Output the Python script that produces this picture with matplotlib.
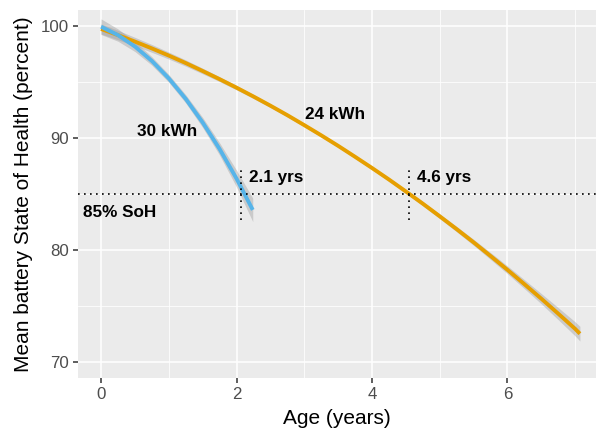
import matplotlib
matplotlib.use("Agg")
from matplotlib import pyplot as plt

plt.rcParams['font.family'] = ['Liberation Sans', 'DejaVu Sans']

# 30 kWh fit (mean and confidence half-width)
age_30 = [0.0, 0.25, 0.5, 0.75, 1.0, 1.25, 1.5, 1.75, 2.0, 2.24]
soh_30 = [99.95, 99.20, 98.18, 96.89, 95.33, 93.50, 91.39, 89.02, 86.37, 83.57]
se_30 = [0.7, 0.55, 0.45, 0.38, 0.35, 0.37, 0.45, 0.55, 0.75, 1.05]

# 24 kWh fit
age_24 = [0.0, 0.25, 0.5, 0.75, 1.0, 1.25, 1.5, 1.75, 2.0, 2.25, 2.5, 2.75,
          3.0, 3.25, 3.5, 3.75, 4.0, 4.25, 4.5, 4.75, 5.0, 5.25, 5.5, 5.75,
          6.0, 6.25, 6.5, 6.75, 7.0, 7.07]
soh_24 = [99.75, 99.20, 98.62, 98.01, 97.37, 96.70, 95.99, 95.26, 94.50, 93.71,
          92.89, 92.04, 91.15, 90.24, 89.30, 88.32, 87.32, 86.29, 85.22, 84.13,
          83.00, 81.85, 80.67, 79.45, 78.21, 76.93, 75.63, 74.29, 72.93, 72.50]
se_24 = [0.45, 0.42, 0.38, 0.35, 0.31, 0.28, 0.25, 0.22, 0.2, 0.18,
         0.16, 0.15, 0.15, 0.14, 0.14, 0.14, 0.15, 0.16, 0.17, 0.19,
         0.21, 0.24, 0.27, 0.31, 0.35, 0.4, 0.46, 0.54, 0.63, 0.66]

threshold = 85
cross_years = [2.07, 4.54]
cross_labels = ['2.1 yrs', '4.6 yrs']

blue = '#56B4E9'
orange = '#E69F00'

fig = plt.figure(figsize=(6, 4.37), dpi=100)
ax = fig.add_axes([0.13, 0.134, 0.8625, 0.842])
ax.set_facecolor('#EBEBEB')

ax.set_xticks([0, 2, 4, 6])
ax.set_xticks([1, 3, 5, 7], minor=True)
ax.set_yticks([70, 80, 90, 100])
ax.set_yticks([75, 85, 95], minor=True)
ax.grid(which='major', color='white', linewidth=1.1)
ax.grid(which='minor', color='white', linewidth=0.55)
ax.set_axisbelow(True)
for s in ax.spines.values():
    s.set_visible(False)

# confidence ribbons
lo = [m - e for m, e in zip(soh_24, se_24)]
hi = [m + e for m, e in zip(soh_24, se_24)]
ax.fill_between(age_24, lo, hi, color='#999999', alpha=0.4, linewidth=0)
lo = [m - e for m, e in zip(soh_30, se_30)]
hi = [m + e for m, e in zip(soh_30, se_30)]
ax.fill_between(age_30, lo, hi, color='#999999', alpha=0.4, linewidth=0)

ax.plot(age_24, soh_24, color=orange, linewidth=2.8, solid_capstyle='butt')
ax.plot(age_30, soh_30, color=blue, linewidth=2.8, solid_capstyle='butt')

# 85% threshold and crossing markers
dots = (0, (1, 2.6))
ax.axhline(threshold, color='black', linewidth=1.2, linestyle=dots)
for x in cross_years:
    ax.plot([x, x], [82.7, 87.5], color='black', linewidth=1.2, linestyle=dots)
for x, lab in zip(cross_years, cross_labels):
    ax.text(x + 0.12, 86.45, lab, fontsize=12.3, fontweight='bold', va='center', ha='left')

ax.text(0.28, 83.3, '85% SoH', fontsize=12.3, fontweight='bold', ha='center', va='center')
ax.text(0.97, 90.55, '30 kWh', fontsize=12.3, fontweight='bold', ha='center', va='center')
ax.text(3.46, 92.1, '24 kWh', fontsize=12.3, fontweight='bold', ha='center', va='center')

ax.set_xlim(-0.34, 7.30)
ax.set_ylim(68.5, 101.4)

ax.tick_params(which='major', length=3.5, width=1.1, color='#333333',
               labelsize=12.2, labelcolor='#4D4D4D', pad=3)
ax.tick_params(which='minor', length=0)
ax.set_xlabel('Age (years)', fontsize=15, labelpad=5)
ax.set_ylabel('Mean battery State of Health (percent)', fontsize=15, labelpad=6)

fig.savefig('out.png', dpi=100)
